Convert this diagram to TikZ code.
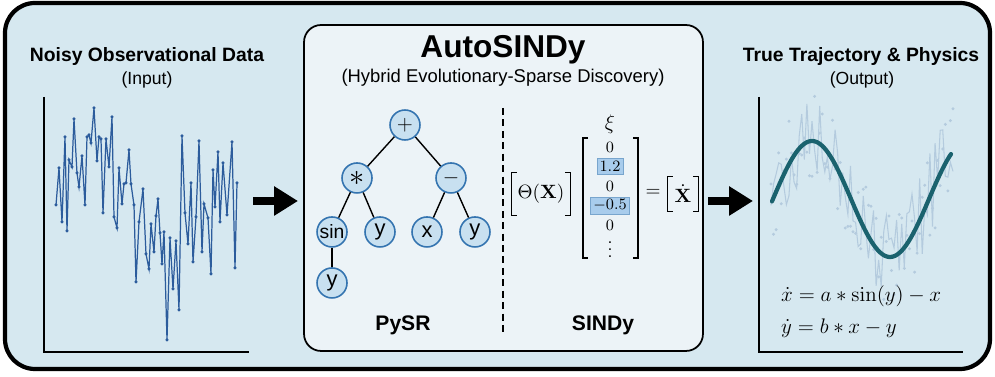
\documentclass[tikz,border=0pt]{standalone}
\usepackage{amsmath, amssymb}
\usepackage[no-math]{fontspec}
\setmainfont{Liberation Sans}
\usepackage{xcolor}
\usepackage{tikz}
\usetikzlibrary{positioning, arrows.meta}
\definecolor{panelbg}{RGB}{214,232,240}
\definecolor{corebg}{RGB}{236,243,247}
\definecolor{nodefill}{RGB}{200,224,240}
\definecolor{nodeline}{RGB}{52,116,176}
\definecolor{noisy}{RGB}{44,92,156}
\definecolor{faint}{RGB}{180,203,222}
\definecolor{truth}{RGB}{26,98,110}
\definecolor{hlfill}{RGB}{168,204,236}
\definecolor{hlline}{RGB}{120,165,205}
\tikzstyle{heading} = [font=\fontsize{11}{13}\selectfont\bfseries, inner sep=0pt]
\tikzstyle{subheading} = [font=\fontsize{10}{12}\selectfont, inner sep=0pt]
\tikzstyle{opnode} = [circle, minimum size=0.6cm, inner sep=0pt, draw=nodeline, fill=nodefill, line width=0.9pt, font=\fontsize{12.5}{14}\selectfont]
\tikzstyle{edge} = [line width=0.8pt, black]
\tikzstyle{axis} = [line width=0.7pt, black]
\tikzstyle{bigarrow} = [line width=5pt, -{Triangle[length=0.48cm, width=0.56cm]}]
\tikzstyle{bracket} = [line width=0.6pt, black]

\begin{document}
\begin{tikzpicture}[x=0.02cm, y=-0.02cm, node distance=0.39cm]
    \tikzset{corebox/.style = {draw, rounded corners=0.34cm, line width=1pt, fill=corebg, minimum width=7.98cm, minimum height=6.52cm},
    entry/.style = {font=\small, inner sep=1.5pt},
    hl/.style = {fill=hlfill, draw=hlline, line width=0.4pt},
    mathbox/.style = {inner sep=0pt, font=\fontsize{11}{13}\selectfont},
    tag/.style = {font=\fontsize{12}{14}\selectfont\bfseries}}

\useasboundingbox (0,0) rectangle (995,377);
\draw [line width=2.4pt, rounded corners=0.6cm, fill=panelbg] (5,3) rectangle (990,369);

\node (inhead) [heading] at (147,57) {Noisy Observational Data};
\node (insub) [subheading] at (147,80) {(Input)};
\draw [axis] (44,97) -- (44,352) -- (249,352);
\draw [noisy, line width=0.7pt, mark=*, mark size=0.5pt, mark options={fill=noisy}] plot coordinates {
(56,205) (59,168) (62,222) (65,137) (67,231) (69,160) (72,167) (74,119) (77,173) (79,187)
(82,156) (85,205) (87,137) (89,135) (91,143) (94,108) (97,161) (99,137) (101,139) (103,213)
(106,139) (109,167) (112,117) (114,217) (117,228) (119,168) (122,204) (124,184) (126,183) (129,150)
(131,184) (134,205) (136,282) (139,222) (143,189) (146,254) (149,269) (151,224) (154,252) (156,216)
(158,199) (160,233) (162,264) (164,232) (167,340) (170,238) (173,289) (176,241) (179,310) (182,136)
(185,213) (188,244) (191,183) (193,262) (196,217) (199,141) (202,252) (204,204) (208,218) (211,274)
(213,170) (215,207) (218,152) (220,222) (223,163) (227,215) (232,142) (235,268) (237,183)};

\coordinate (inA) at (253,201);
\coordinate (inB) at (298,201);
\draw [bigarrow] (inA) -- (inB);

\node (core) [corebox] at (503.5,188) {};
\node (title) [font=\fontsize{18}{20}\selectfont\bfseries, inner sep=0pt] at (503,50) {AutoSINDy};
\node (subtitle) [subheading, font=\fontsize{10.5}{12}\selectfont] at (503,78) {(Hybrid Evolutionary-Sparse Discovery)};
\draw [line width=0.9pt, dash pattern=on 4pt off 2.5pt] (503,108) -- (503,335);

\node (plus) [opnode] at (405,125) {$+$};
\node (times) [opnode, on grid, below left=1.06cm and 0.96cm of plus] {\fontsize{16}{16}\selectfont$\ast$};
\node (minus) [opnode, on grid, below right=1.06cm and 0.92cm of plus] {$-$};
\node (sin) [opnode, on grid, below left=1.08cm and 0.5cm of times, font=\fontsize{11}{13}\selectfont] {sin};
\node (ya) [opnode, on grid, below right=1.08cm and 0.46cm of times] {y};
\node (xa) [opnode, on grid, below left=1.08cm and 0.48cm of minus] {x};
\node (yb) [opnode, on grid, below right=1.08cm and 0.48cm of minus] {y};
\node (yc) [opnode, on grid, below=1.02cm of sin] {y};
\draw [edge] (plus) -- (times);
\draw [edge] (plus) -- (minus);
\draw [edge] (times) -- (sin);
\draw [edge] (times) -- (ya);
\draw [edge] (minus) -- (xa);
\draw [edge] (minus) -- (yb);
\draw [edge] (sin) -- (yc);

\node (pysr) [tag] at (403,325) {PySR};
\node (sindy) [tag] at (603,325) {SINDy};

\node (theta) [mathbox, minimum width=1.16cm, minimum height=0.84cm] at (541,194) {$\Theta(\mathbf{X})$};
\draw [bracket] ([xshift=3pt]theta.north west) -- (theta.north west) -- (theta.south west) -- ([xshift=3pt]theta.south west);
\draw [bracket] ([xshift=-3pt]theta.north east) -- (theta.north east) -- (theta.south east) -- ([xshift=-3pt]theta.south east);

\node (xi) [mathbox, font=\fontsize{13}{15}\selectfont] at (610,124) {$\xi$};
\node (c1) [entry] at (610,147) {$0$};
\node (c2) [entry, hl, below of=c1] {$1.2$};
\node (c3) [entry, below of=c2] {$0$};
\node (c4) [entry, hl, below of=c3] {$-0.5$};
\node (c5) [entry, below of=c4] {$0$};
\node (c6) [entry, below of=c5] {$\vdots$};
\draw [bracket] (588,138) -- (583,138) -- (583,258) -- (588,258);
\draw [bracket] (633,138) -- (638,138) -- (638,258) -- (633,258);

\node (eq) [mathbox] at (653,193) {$=$};
\node (xdot) [mathbox, minimum width=0.6cm, minimum height=0.68cm] at (683,194) {$\dot{\mathbf{X}}$};
\draw [bracket] ([xshift=3pt]xdot.north west) -- (xdot.north west) -- (xdot.south west) -- ([xshift=3pt]xdot.south west);
\draw [bracket] ([xshift=-3pt]xdot.north east) -- (xdot.north east) -- (xdot.south east) -- ([xshift=-3pt]xdot.south east);

\coordinate (outA) at (708,201);
\coordinate (outB) at (753,201);
\draw [bigarrow] (outA) -- (outB);

\node (outhead) [heading] at (861,57) {True Trajectory \& Physics};
\node (outsub) [subheading] at (862,80) {(Output)};
\draw [axis] (759,97) -- (759,352) -- (963,352);
\pgfmathsetseed{11}
\draw [faint, line width=0.6pt, mark=*, mark size=0.5pt, mark options={fill=faint}] plot [domain=771:953, samples=72] (\x, {199-58*sin((\x-773)*2.3077)+45*rand});
\draw [truth, line width=2.4pt, line cap=round] plot [domain=772:951, samples=90, smooth] (\x, {199-58*sin((\x-773)*2.3077)});
\node (eqx) [anchor=west, font=\fontsize{13}{15}\selectfont] at (775,296) {$\dot{x} = a * \sin(y) - x$};
\node (eqy) [anchor=west, font=\fontsize{13}{15}\selectfont] at (775,328) {$\dot{y} = b * x - y$};

\end{tikzpicture}
\end{document}
